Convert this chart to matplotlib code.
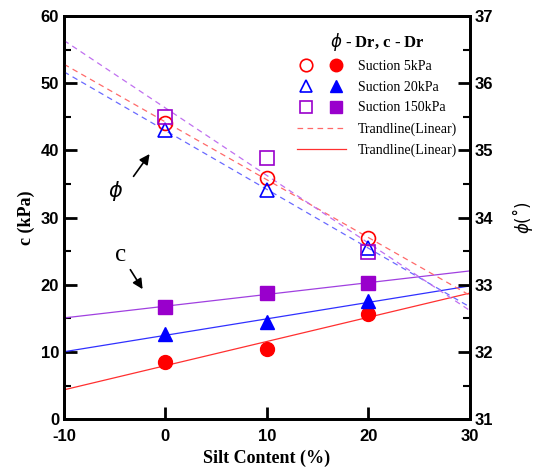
import numpy as np
import matplotlib
matplotlib.use("Agg")
import matplotlib.pyplot as plt
from matplotlib.legend_handler import HandlerTuple
from matplotlib.lines import Line2D

plt.rcParams['axes.unicode_minus'] = False

silt = [0, 10, 20]
c_5 = [8.5, 10.5, 15.7]
c_20 = [12.7, 14.5, 17.6]
c_150 = [16.7, 18.8, 20.2]
phi_5 = [35.41, 34.59, 33.69]
phi_20 = [35.3, 34.41, 33.55]
phi_150 = [35.5, 34.89, 33.49]
labels = ["Suction 5kPa", "Suction 20kPa", "Suction 150kPa"]

fig = plt.figure(figsize=(5.37, 4.71), dpi=100)
ax = fig.add_axes([0.119, 0.110, 0.756, 0.856])
ax2 = ax.twinx()

cols = ['#ff0000', '#0000ff', '#9900cc']
dcols = ['#ff6a6a', '#6a6aff', '#c070f0']
scols = ['#ff3030', '#3030ff', '#a040e0']
markers = ['o', '^', 's']
xl = np.array([-10, 30])

handles = []
for cv, pv, col, dc, sc, m in zip([c_5, c_20, c_150], [phi_5, phi_20, phi_150], cols, dcols, scols, markers):
    p = np.polyfit(silt, cv, 1)
    ax.plot(xl, np.polyval(p, xl), color=sc, lw=0.9, zorder=2)
    q = np.polyfit(silt, pv, 1)
    ax2.plot(xl, np.polyval(q, xl), color=dc, lw=0.9, ls=(0, (4.5, 3.5)), zorder=2)
    ax.plot(silt, cv, m, color=col, ms=10, zorder=3, clip_on=False)
    ax2.plot(silt, pv, m, mfc='none', mec=col, mew=1.2, ms=10, zorder=3)
    h1 = Line2D([], [], marker=m, mfc='none', mec=col, mew=1.2, ms=9, ls='none')
    h2 = Line2D([], [], marker=m, color=col, ms=9, ls='none')
    handles.append((h1, h2))

ax.set_xlim(-10, 30)
ax.set_ylim(0, 60)
ax2.set_ylim(31, 37)
ax.set_xticks([-10, 0, 10, 20, 30])
ax.set_yticks(range(0, 61, 10))
ax.set_yticks(range(5, 60, 10), minor=True)
ax2.set_yticks(range(31, 38))
ax2.set_yticks(np.arange(31.5, 37, 1), minor=True)

for a in (ax, ax2):
    for s in a.spines.values():
        s.set_linewidth(2)
    a.tick_params(which='major', direction='in', length=9, width=2, labelsize=12)
    a.tick_params(which='minor', direction='in', length=5, width=1.5)
    for lab in a.get_xticklabels() + a.get_yticklabels():
        lab.set_fontweight('bold')
        lab.set_family('Liberation Sans')
ax.tick_params(axis='x', pad=7)

ax.set_xlabel("Silt Content (%)", family='Liberation Serif', fontweight='bold', fontsize=13)
ax.set_ylabel("c (kPa)", family='Liberation Serif', fontweight='bold', fontsize=13)
ax2.set_ylabel("$\\phi$(˚)", fontsize=12, rotation=90, labelpad=12)

trend_d = Line2D([], [], color='#ff6a6a', lw=0.9, ls=(0, (4.5, 3.5)))
trend_s = Line2D([], [], color='#ff3030', lw=0.9)
leg = ax.legend(handles + [trend_d, trend_s],
                labels + ["Trandline(Linear)", "Trandline(Linear)"],
                handler_map={tuple: HandlerTuple(ndivide=None, pad=0.8)},
                loc='upper right', bbox_to_anchor=(1.0, 0.995), frameon=False,
                prop={'family': 'Liberation Serif', 'size': 10},
                title="$\\phi$ - Dr, c - Dr", handlelength=3.5, labelspacing=0.55,
                handletextpad=0.9)
leg.get_title().set_fontweight('bold')
leg.get_title().set_family('Liberation Serif')
leg.get_title().set_fontsize(12)

ax.annotate("", xy=(-1.4, 39.8), xytext=(-3.3, 35.8),
            arrowprops=dict(arrowstyle='-|>', color='black', lw=1.2, mutation_scale=15))
ax.text(-4.9, 34.0, "$\\phi$", fontsize=15, ha='center', va='center')
ax.annotate("", xy=(-2.1, 19.0), xytext=(-3.6, 22.6),
            arrowprops=dict(arrowstyle='-|>', color='black', lw=1.2, mutation_scale=15))
ax.text(-4.4, 24.4, "c", family='Liberation Serif', fontsize=18, ha='center', va='center')

fig.savefig("out.png", dpi=100)
